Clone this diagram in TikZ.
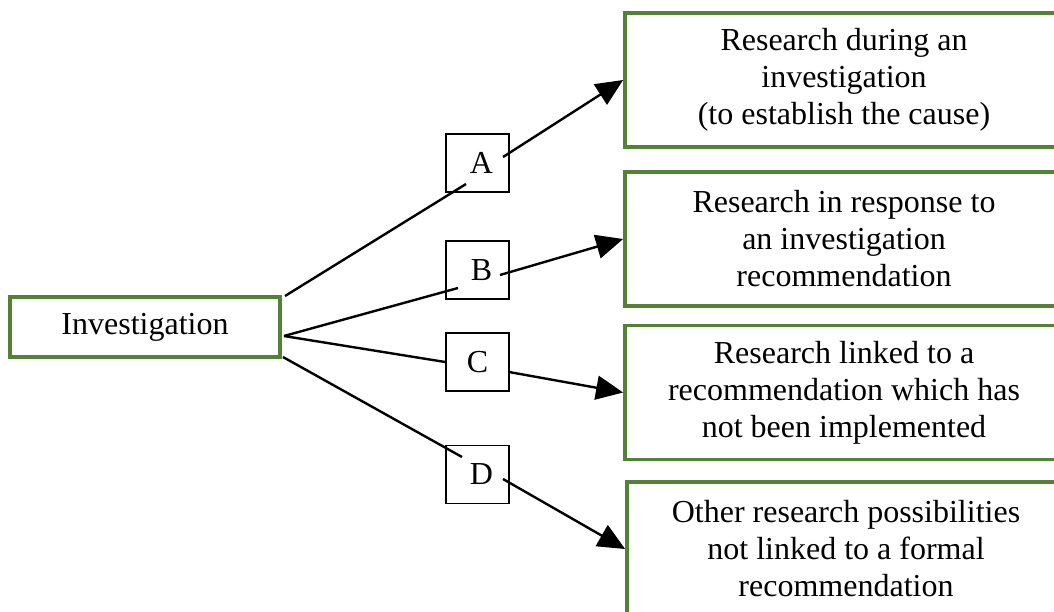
\documentclass[tikz,border=0pt]{standalone}
\usepackage{fontspec}
\setmainfont{Liberation Serif}
\usetikzlibrary{arrows.meta,calc}
\definecolor{boxgreen}{RGB}{84,130,53}
\begin{document}
\begin{tikzpicture}[x=0.5pt,y=-0.5pt,
  greenbox/.style={draw=boxgreen,line width=1.9pt,align=center,inner sep=0pt,
    font=\fontsize{16}{18.5}\selectfont},
  letterbox/.style={draw=black,line width=0.8pt,minimum width=31.5pt,minimum height=29pt,
    inner sep=0pt,font=\fontsize{16}{18.5}\selectfont},
  link/.style={draw=black,line width=1.2pt},
  arrowlink/.style={link,-{Triangle[length=13.5pt,width=12pt]}}]
\useasboundingbox (0,0) rectangle (1054,611);
\clip (0,0) rectangle (1054,611);
\fill[white] (0,0) rectangle (1054,611);
% nodes
\node[greenbox,minimum width=135pt,minimum height=30pt] (inv) at (145,327) {Investigation};
\node[letterbox] (A) at (477.5,163) {\hspace*{4pt}A};
\node[letterbox] (B) at (477.5,270) {\hspace*{4pt}B};
\node[letterbox] (C) at (477.5,362) {C};
\node[letterbox] (D) at (477.5,474.5) {\hspace*{4pt}D};
\node[greenbox,minimum width=219pt,minimum height=67pt] (r1) at (844,80)
  {Research during an\\investigation\\(to establish the cause)};
\node[greenbox,minimum width=219pt,minimum height=67pt] (r2) at (844,239)
  {Research in response to\\an investigation\\recommendation};
\node[greenbox,minimum width=219pt,minimum height=67pt] (r3) at (844,392.5)
  {Research linked to a\\recommendation which has\\not been implemented};
\node[greenbox,minimum width=219pt,minimum height=67pt] (r4) at (846,549)
  {Other research possibilities\\not linked to a formal\\recommendation};
% connector end points
\coordinate (invA) at (285,296);
\coordinate (invBC) at (284,336);
\coordinate (invD) at (283,357);
\coordinate (aIn) at (466,184);
\coordinate (aOut) at (503,157);
\coordinate (bIn) at (458,288);
\coordinate (bOut) at (500,275);
\coordinate (cOut) at (509,372);
\coordinate (dIn) at (462,457);
\coordinate (dOut) at (503,479);
% connectors
\draw[link] (invA) -- (aIn);
\draw[link] (invBC) -- (bIn);
\draw[link] (invBC) -- (C.west);
\draw[link] (invD) -- (dIn);
\draw[arrowlink] (aOut) -- (r1.west);
\draw[arrowlink] (bOut) -- (r2.west);
\draw[arrowlink] (cOut) -- (r3.west);
\draw[arrowlink] (dOut) -- (r4.west);
\end{tikzpicture}
\end{document}
